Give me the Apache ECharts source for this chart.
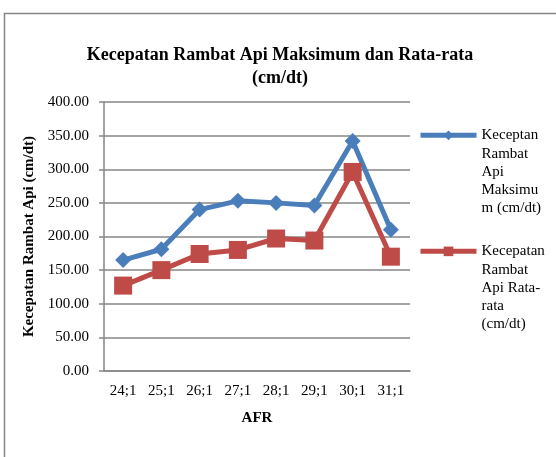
<!DOCTYPE html>
<html><head><meta charset="utf-8">
<script src="https://cdn.jsdelivr.net/npm/echarts@6/dist/echarts.min.js"></script>
<style>html,body{margin:0;padding:0;background:#fff}#c{width:556px;height:457px}</style>
</head><body><div id="c"></div>
<script>
const categories = ['24;1','25;1','26;1','27;1','28;1','29;1','30;1','31;1'];
const maksimum = [165, 181, 240, 253, 250, 246, 342, 210];
const rataRata = [127, 150, 174, 180, 197, 194, 296, 170];
const yTicks = [0, 50, 100, 150, 200, 250, 300, 350, 400];
const nameMax = 'Keceptan Rambat Api Maksimum (cm/dt)';
const nameAvg = 'Kecepatan Rambat Api Rata-rata (cm/dt)';
const legendLines = {};
legendLines[nameMax] = ['Keceptan','Rambat','Api','Maksimu','m (cm/dt)'];
legendLines[nameAvg] = ['Kecepatan','Rambat','Api Rata-','rata','(cm/dt)'];

const FONT = '"Liberation Serif", "Times New Roman", serif';
const BLUE = '#4A7EBB', RED = '#BE4B48', GRAY = '#868686';
const LH = 18.3;
const legendText = {fontFamily: FONT, fontSize: 15, color: '#000', lineHeight: LH};
const legendBase = {
  orient: 'vertical', left: 418, padding: 0, itemWidth: 56, itemHeight: 12, itemGap: 0,
  textStyle: legendText, lineStyle: {width: 5},
  // blank lines above keep the icon level with the first text line
  formatter: n => '\n\n\n\n' + legendLines[n].join('\n')
};
const chart = echarts.init(document.getElementById('c'));
chart.setOption({
  animation: false,
  backgroundColor: '#fff',
  title: {
    text: 'Kecepatan Rambat Api Maksimum dan Rata-rata\n(cm/dt)',
    left: 275, top: 39, textAlign: 'center',
    textStyle: {fontFamily: FONT, fontSize: 18, fontWeight: 'bold', color: '#000', lineHeight: 23}
  },
  graphic: [{
    type: 'rect', shape: {x: 4.5, y: 13.5, width: 700, height: 600},
    style: {fill: 'none', stroke: GRAY, lineWidth: 1.5}, silent: true
  }],
  legend: [
    Object.assign({data: [nameMax], top: 53}, legendBase),
    Object.assign({data: [nameAvg], top: 169}, legendBase)
  ],
  grid: {left: 104, right: 146, top: 102, bottom: 86, containLabel: false},
  xAxis: {
    type: 'category', data: categories, boundaryGap: true,
    name: 'AFR', nameLocation: 'middle', nameGap: 40,
    nameTextStyle: {fontFamily: FONT, fontSize: 15, fontWeight: 'bold', color: '#000'},
    axisLine: {lineStyle: {color: GRAY, width: 1.5}},
    axisTick: {show: false},
    axisLabel: {fontFamily: FONT, fontSize: 15, color: '#000', margin: 13}
  },
  yAxis: {
    type: 'value', min: 0, max: 400, interval: 50,
    name: 'Kecepatan Rambat Api (cm/dt)', nameLocation: 'middle', nameGap: 57,
    nameTextStyle: {fontFamily: FONT, fontSize: 15, fontWeight: 'bold', color: '#000'},
    axisLine: {show: true, lineStyle: {color: GRAY, width: 1.5}},
    axisTick: {show: true, length: 5, lineStyle: {color: GRAY, width: 1.5}},
    splitLine: {lineStyle: {color: GRAY, width: 1.5}},
    axisLabel: {fontFamily: FONT, fontSize: 15, color: '#000', margin: 15,
      formatter: v => yTicks.includes(v) ? v.toFixed(2) : ''}
  },
  series: [
    {name: nameMax, type: 'line', data: maksimum, symbol: 'diamond', symbolSize: 16,
     lineStyle: {color: BLUE, width: 5}, itemStyle: {color: BLUE}},
    {name: nameAvg, type: 'line', data: rataRata, symbol: 'rect', symbolSize: 18,
     lineStyle: {color: RED, width: 5}, itemStyle: {color: RED}}
  ]
});
</script></body></html>
